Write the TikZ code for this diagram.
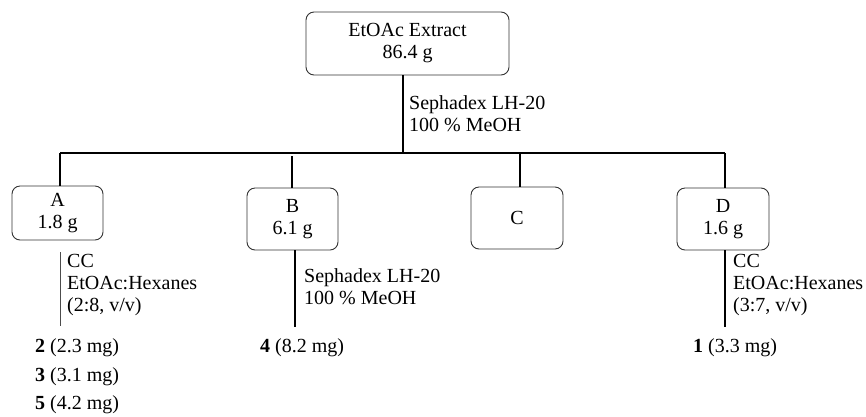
\documentclass[tikz,border=0pt]{standalone}
\usepackage{fontspec}
\setmainfont{Liberation Serif}
\usetikzlibrary{positioning}

\begin{document}
\begin{tikzpicture}[
    % 1 unit = 1 pt, y grows downwards like the picture
    x=1pt, y=-1pt,
    every node/.style={color=black, font=\fontsize{20}{22}\selectfont},
    % rounded boxes for the fractions
    fraction/.style={draw=black!80, line width=0.9pt, rounded corners=8pt, align=center, inner sep=0pt},
    link/.style={color=black, line width=1.6pt},
    note/.style={align=left, anchor=west, inner sep=0pt},
    yield/.style={anchor=west, inner sep=0pt}
  ]
  \useasboundingbox (0,0) rectangle (866,416);

  % --- boxes ---
  \node[fraction, minimum width=203pt, minimum height=63pt] (extract) at (407.5,43.5) {EtOAc Extract\\86.4 g};
  \node[fraction, minimum width=91pt, minimum height=54pt] (A) at (57.5,213) {A\\1.8 g};
  \node[fraction, minimum width=91pt, minimum height=62pt] (B) at (292.5,219) {B\\6.1 g};
  \node[fraction, minimum width=92pt, minimum height=62pt] (C) at (517,218) {C};
  \node[fraction, minimum width=92pt, minimum height=62pt] (D) at (723,219) {D\\1.6 g};

  % --- first separation ---
  \coordinate (busL) at (60,153);
  \coordinate (busR) at (725,153);
  \coordinate (bus) at (403,153);
  \draw[link] (busL) -- (busR);
  \draw[link] (extract.south -| bus) -- (bus);
  \node[note] (mainNote) at (409,113.5) {Sephadex LH-20\\100 \% MeOH};

  \draw[link] (A.north -| busL) -- (busL);
  \draw[link, shorten >=3pt] (B.north -| 292,0) -- (292,153);
  \draw[link] (C.north -| 520,0) -- (520,153);
  \draw[link] (D.north -| busR) -- (busR);

  % --- sub fractions ---
  \coordinate (aEnd) at (60,326);
  \coordinate (bEnd) at (295,327);
  \coordinate (dEnd) at (725,327);
  \draw[color=black!70, line width=0.9pt, shorten <=12pt] (A.south -| aEnd) -- (aEnd);
  \draw[link] (B.south -| bEnd) -- (bEnd);
  \draw[link] (D.south -| dEnd) -- (dEnd);

  \node[note] (aNote) at (67,285) {CC\\EtOAc:Hexanes\\(2:8, v/v)};
  \node[note] (bNote) at (304,287) {Sephadex LH-20\\100 \% MeOH};
  \node[note] (dNote) at (733,285) {CC\\EtOAc:Hexanes\\(3:7, v/v)};

  % --- compounds ---
  \node[yield] (y2) at (35,348) {\textbf{2} (2.3 mg)};
  \node[yield, below right=10pt and 0pt of y2.south west] (y3) {\textbf{3} (3.1 mg)};
  \node[yield, below right=10pt and 0pt of y3.south west] (y5) {\textbf{5} (4.2 mg)};
  \node[yield] (y4) at (260,348) {\textbf{4} (8.2 mg)};
  \node[yield] (y1) at (693,348) {\textbf{1} (3.3 mg)};

\end{tikzpicture}
\end{document}
